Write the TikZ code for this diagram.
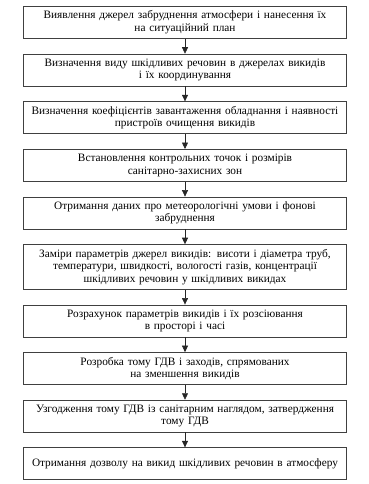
\documentclass[tikz,border=0pt]{standalone}
\usepackage{fontspec}
\setmainfont{Liberation Serif}
\usepackage{tikz}
\usetikzlibrary{positioning,arrows.meta}

\begin{document}
\begin{tikzpicture}[
			font=\fontsize{11.3}{12.6}\selectfont,
			every node/.style={align=center},
			node distance=15pt,
			stepbox/.style={rectangle, draw=black!75, line width=0.6pt, fill=white,
				text width=312pt, inner xsep=5.5pt, inner ysep=4.5pt, minimum height=32pt},
			flow/.style={draw=black!85, line width=0.6pt, -{Triangle[length=6.5pt,width=6pt]}},
			]
			
			\useasboundingbox (0pt,0pt) rectangle (368pt,-484pt);
			
			\node[stepbox, anchor=north] (s1) at (185pt,-6pt) {Виявлення джерел забруднення атмосфери і нанесення їх\\на ситуаційний план};
			\node[stepbox, below=of s1] (s2) {Визначення виду шкідливих речовин в джерелах викидів\\і їх координування};
			\node[stepbox, below=of s2] (s3) {Визначення коефіцієнтів завантаження обладнання і наявності\\пристроїв очищення викидів};
			\node[stepbox, below=of s3] (s4) {Встановлення контрольних точок і розмірів\\санітарно-захисних зон};
			\node[stepbox, below=of s4] (s5) {Отримання даних про метеорологічні умови і фонові\\забруднення};
			\node[stepbox, below=of s5] (s6) {Заміри параметрів джерел викидів: висоти і діаметра труб,\\температури, швидкості, вологості газів, концентрації\\шкідливих речовин у шкідливих викидах};
			\node[stepbox, below=of s6] (s7) {Розрахунок параметрів викидів і їх розсіювання\\в просторі і часі};
			\node[stepbox, below=of s7] (s8) {Розробка тому ГДВ і заходів, спрямованих\\на зменшення викидів};
			\node[stepbox, below=of s8] (s9) {Узгодження тому ГДВ із санітарним наглядом, затвердження\\тому ГДВ};
			\node[stepbox, below=of s9] (s10) {Отримання дозволу на викид шкідливих речовин в атмосферу};
			
			\draw[flow] (s1) -- (s2);
			\draw[flow] (s2) -- (s3);
			\draw[flow] (s3) -- (s4);
			\draw[flow] (s4) -- (s5);
			\draw[flow] (s5) -- (s6);
			\draw[flow] (s6) -- (s7);
			\draw[flow] (s7) -- (s8);
			\draw[flow] (s8) -- (s9);
			\draw[flow] (s9) -- (s10);
			
		\end{tikzpicture}
\end{document}
